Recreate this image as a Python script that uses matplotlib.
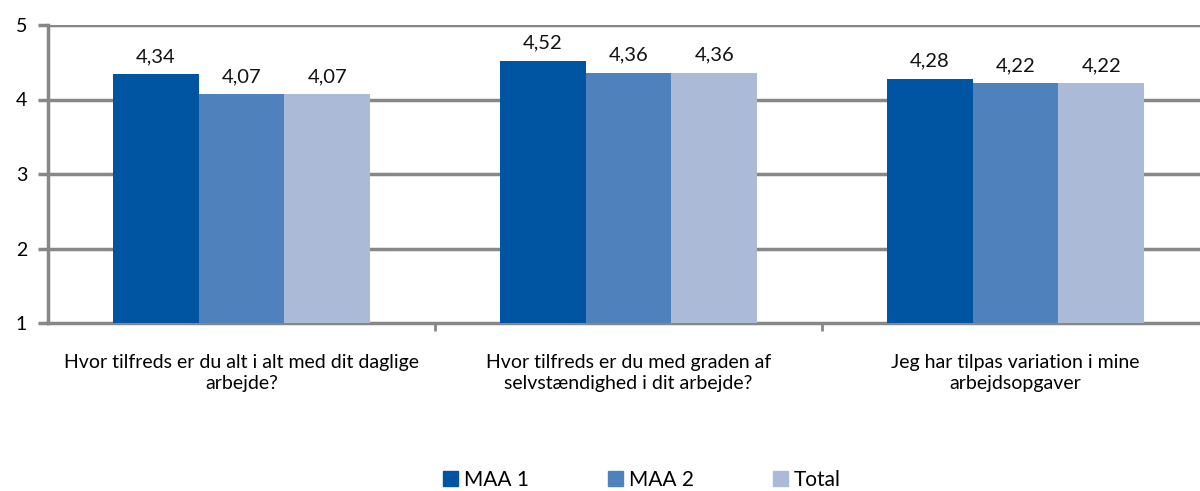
import numpy as np
import matplotlib.pyplot as plt
from matplotlib.patches import Patch

categories = [
    'Hvor tilfreds er du alt i alt med dit daglige\narbejde?',
    'Hvor tilfreds er du med graden af\nselvstændighed i dit arbejde?',
    'Jeg har tilpas variation i mine\narbejdsopgaver',
]
series_names = ['MAA 1', 'MAA 2', 'Total']
maa1 = [4.34, 4.52, 4.28]
maa2 = [4.07, 4.36, 4.22]
total = [4.07, 4.36, 4.22]
colors = ['#0055A2', '#4F81BD', '#AABAD7']

plt.rcParams['font.family'] = ['Lato', 'DejaVu Sans']

fig = plt.figure(figsize=(12, 4.91), dpi=100)
ax = fig.add_axes([48 / 1200, 1 - 323 / 491, 1161 / 1200, 298 / 491])

x = np.arange(len(categories))
w = 0.222
grid_col = '#878787'

for i, (vals, name) in enumerate(zip([maa1, maa2, total], series_names)):
    pos = x + (i - 1) * w
    ax.bar(pos, np.array(vals) - 1, bottom=1, width=w, color=colors[i], zorder=3)
    for p, v in zip(pos, vals):
        ax.text(p, v + 0.12, f'{v:.2f}'.replace('.', ','), ha='center', va='bottom',
                fontsize=14.5, color='#111111')

ax.set_xlim(-0.5, 2.5)
ax.set_ylim(1, 5)
ax.set_yticks([1, 2, 3, 4, 5])
for y in [2, 3, 4, 5]:
    ax.axhline(y, color=grid_col, lw=2.5, zorder=1)

ax.set_xticks([0.5, 1.5])
ax.set_xticklabels([])
ax.tick_params(axis='x', length=6, width=2, color=grid_col)
ax.tick_params(axis='y', length=7, width=2.5, color=grid_col, labelsize=14, pad=8)
for s in ['top', 'right']:
    ax.spines[s].set_visible(False)
for s in ['left', 'bottom']:
    ax.spines[s].set_color(grid_col)
    ax.spines[s].set_linewidth(2.5)

for xi, cat in zip(x, categories):
    ax.text(xi, 0.58, cat, ha='center', va='top', fontsize=14, linespacing=1.3,
            transform=ax.transData, clip_on=False)

handles = [Patch(color=c) for c in colors]
fig.legend(handles, series_names, loc='center', bbox_to_anchor=(642 / 1200, 1 - 480 / 491),
           ncol=3, frameon=False, fontsize=15, handlelength=0.7, handleheight=0.7,
           handletextpad=0.3, columnspacing=3.8)

fig.savefig('out.png', dpi=100)
